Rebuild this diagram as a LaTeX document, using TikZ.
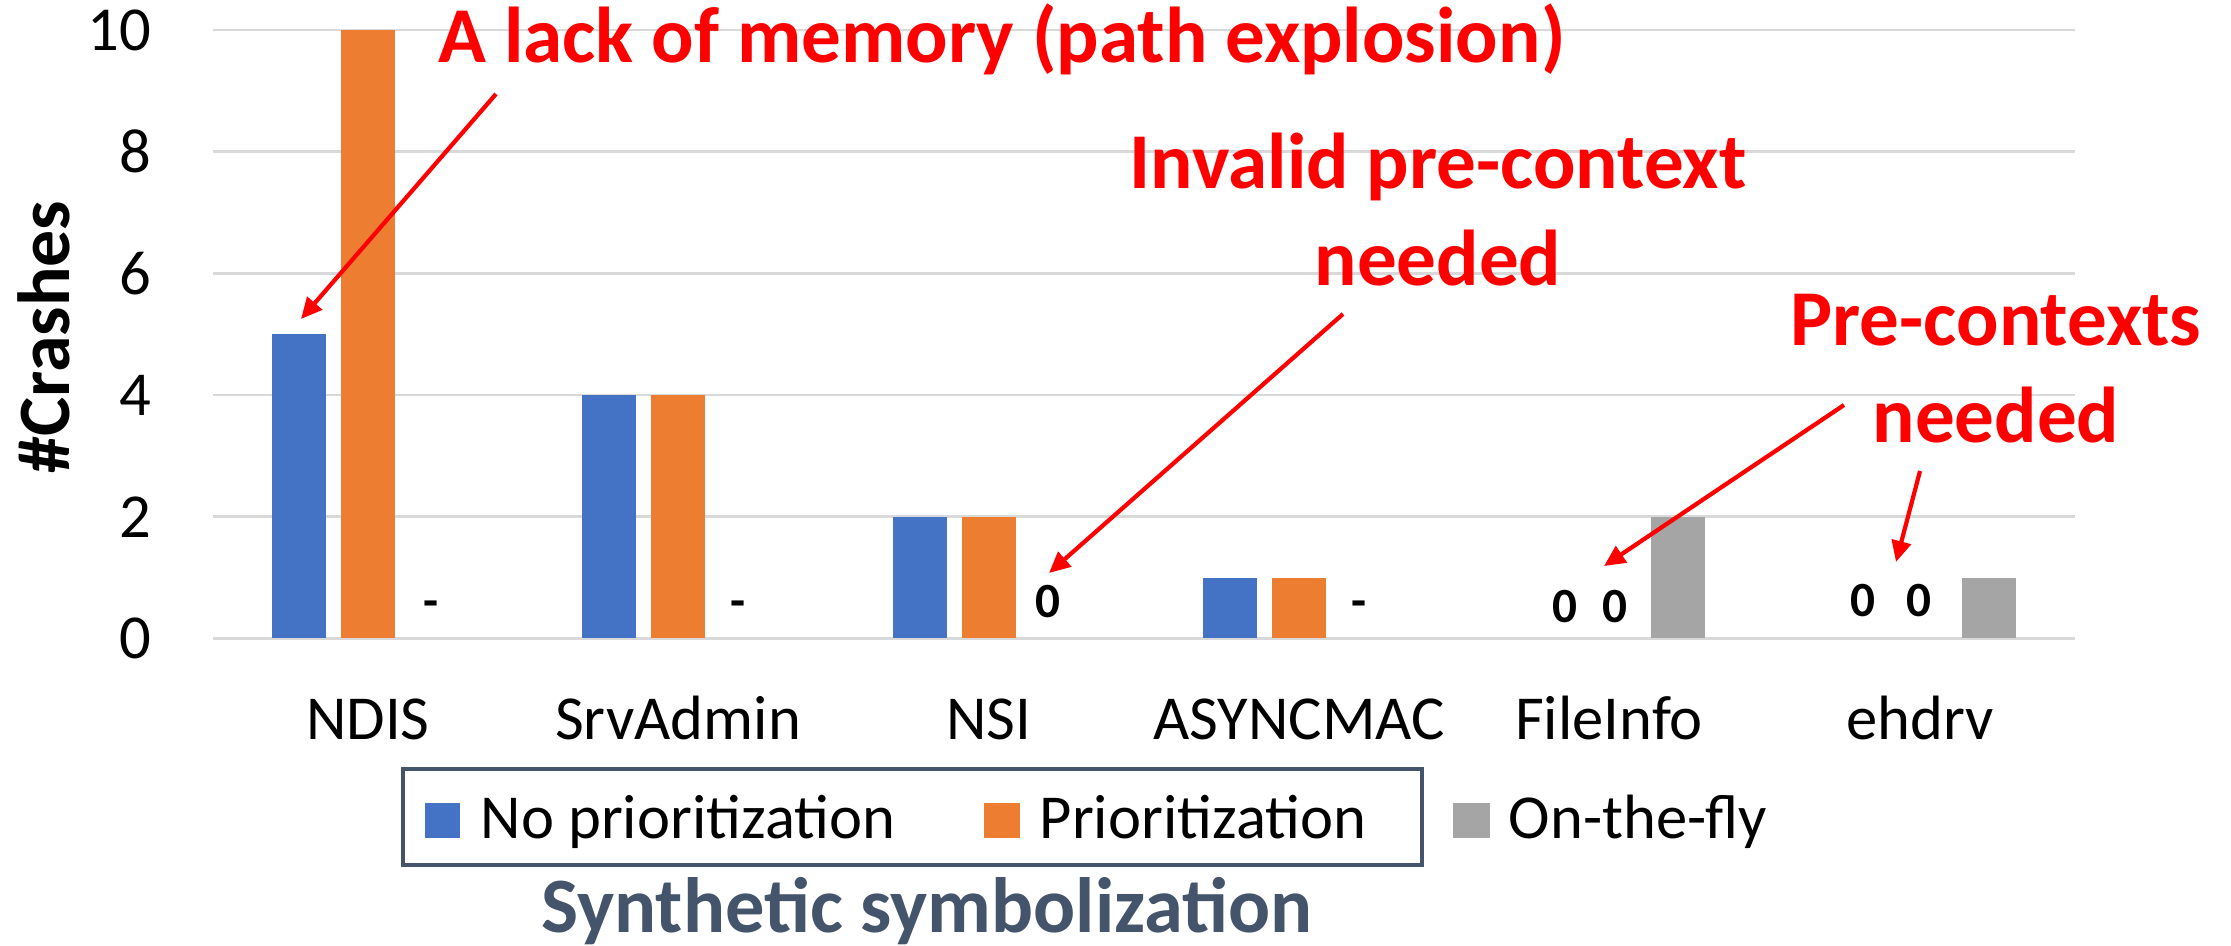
\documentclass[tikz,border=0pt]{standalone}
\usepackage{fontspec}
\setmainfont{Carlito}
\usepackage{tikz}
\usetikzlibrary{arrows.meta}
\usetikzlibrary{positioning}
\definecolor{noprio}{HTML}{4472C4}
\definecolor{prio}{HTML}{ED7D31}
\definecolor{onfly}{HTML}{A5A5A5}
\definecolor{slate}{HTML}{44546A}
\definecolor{gridgray}{HTML}{D9D9D9}
\tikzset{
	gridline/.style={draw=gridgray, line width=0.8pt},
	plainbar/.style={fill=noprio},
	priobar/.style={fill=prio},
	flybar/.style={fill=onfly},
	ticklabel/.style={inner sep=0pt, anchor=east, font=\fontsize{17.8}{21}\selectfont},
	catlabel/.style={inner sep=0pt, anchor=base, font=\fontsize{17.8}{21}\selectfont},
	datalabel/.style={inner sep=0pt, anchor=base, font=\bfseries\fontsize{14}{17}\selectfont},
	keylabel/.style={inner sep=0pt, anchor=base west, font=\fontsize{17.8}{21}\selectfont},
	axistitle/.style={inner sep=0pt, font=\bfseries\fontsize{21}{25}\selectfont},
	note/.style={inner sep=0pt, anchor=base, text=red, align=center,
		font=\bfseries\fontsize{22.5}{27.6}\selectfont},
	pointer/.style={draw=red, line width=1.2pt, -{Triangle[length=6pt,width=5.5pt]}},
	legendframe/.style={draw=slate, line width=1.4pt},
}
\begin{document}
\begin{tikzpicture}[x=0.01cm, y=0.01cm]
	\useasboundingbox (0,0) rectangle (2231,945);
	% value axis: grid and tick labels
	\begin{scope}[shift={(0,306.6)}, y=0.608cm]
		\foreach \v in {0,2,...,10} {
			\draw[gridline] (213,\v) -- (2075,\v);
			\node[ticklabel] (tick\v) at (152,\v) {\v};
		}
	\end{scope}
	\node[axistitle, rotate=90] (ytitle) at (44,608) {\#Crashes};
%
\begin{scope}[shift={(368,306.6)}, y=0.608cm]
	\fill[plainbar] (-96,0) rectangle (-42,5);
	\fill[priobar] (-27,0) rectangle (27,10);
	\node[datalabel] (ndisdash) at (63,0.34) {-};
	\node[catlabel] (ndis) at (0,-1.67) {NDIS};
\end{scope}
\begin{scope}[shift={(678,306.6)}, y=0.608cm]
	\fill[plainbar] (-96,0) rectangle (-42,4);
	\fill[priobar] (-27,0) rectangle (27,4);
	\node[datalabel] (srvdash) at (60,0.34) {-};
	\node[catlabel] (srv) at (0,-1.67) {SrvAdmin};
\end{scope}
\begin{scope}[shift={(989,306.6)}, y=0.608cm]
	\fill[plainbar] (-96,0) rectangle (-42,2);
	\fill[priobar] (-27,0) rectangle (27,2);
	\node[datalabel] (nsizero) at (59,0.34) {0};
	\node[catlabel] (nsi) at (0,-1.67) {NSI};
\end{scope}
\begin{scope}[shift={(1299,306.6)}, y=0.608cm]
	\fill[plainbar] (-96,0) rectangle (-42,1);
	\fill[priobar] (-27,0) rectangle (27,1);
	\node[datalabel] (asyncdash) at (60,0.34) {-};
	\node[catlabel] (async) at (0,-1.67) {ASYNCMAC};
\end{scope}
\begin{scope}[shift={(1609,306.6)}, y=0.608cm]
	\fill[flybar] (42,0) rectangle (96,2);
	\node[datalabel] (filezeroa) at (-44,0.26) {0};
	\node[datalabel] (filezerob) at (6,0.26) {0};
	\node[catlabel] (file) at (0,-1.67) {FileInfo};
\end{scope}
\begin{scope}[shift={(1920,306.6)}, y=0.608cm]
	\fill[flybar] (42,0) rectangle (96,1);
	\node[datalabel] (ehzeroa) at (-57,0.36) {0};
	\node[datalabel] (ehzerob) at (-1,0.36) {0};
	\node[catlabel] (eh) at (0,-1.67) {ehdrv};
\end{scope}
%
	% legend
	\draw[legendframe] (403,80) rectangle (1422,176);
	\fill[plainbar] (425,107) rectangle (460,142);
	\node[keylabel] (keyno) at (480,107) {No prioritization};
	\fill[priobar] (984,107) rectangle (1020,142);
	\node[keylabel] (keyprio) at (1039,107) {Prioritization};
	\fill[flybar] (1453,107) rectangle (1490,142);
	\node[keylabel] (keyfly) at (1508,107) {On-the-fly};
	\node[axistitle, anchor=base, text=slate, font=\bfseries\fontsize{22.3}{26}\selectfont] (xtitle) at (927,13) {Synthetic symbolization};
%
	% remarks (base anchor sits on the last line)
	\node[note] (memnote) at (1002,882) {A lack of memory (path explosion)};
	\node[note] (invnote) at (1438,659) {Invalid pre-context\\needed};
	\node[note] (prenote) at (1996,502) {Pre-contexts\\needed};
	\coordinate (memtail) at (496,851);
	\coordinate (memtip) at (301,626);
	\coordinate (invtail) at (1343,631);
	\coordinate (invtip) at (1049,372);
	\coordinate (pretaila) at (1844,540);
	\coordinate (pretipa) at (1604,379);
	\coordinate (pretailb) at (1920,474);
	\coordinate (pretipb) at (1896,383);
	\draw[pointer] (memtail) -- (memtip);
	\draw[pointer] (invtail) -- (invtip);
	\draw[pointer] (pretaila) -- (pretipa);
	\draw[pointer] (pretailb) -- (pretipb);
\end{tikzpicture}
\end{document}
